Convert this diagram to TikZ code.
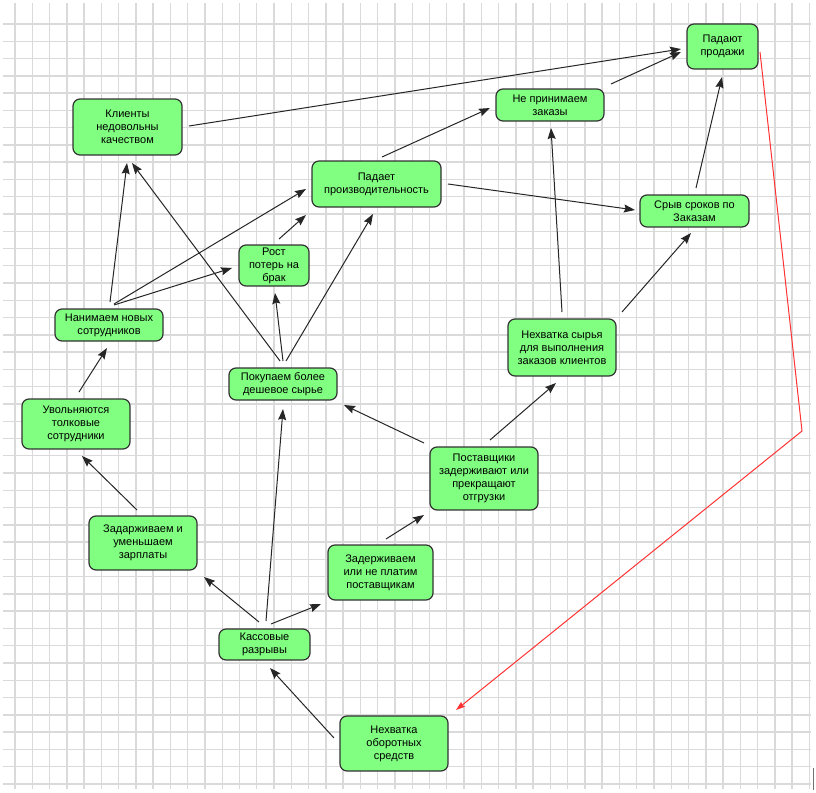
\documentclass[tikz,border=0pt]{standalone}
\usepackage{fontspec}
\setmainfont{Liberation Sans}
\usetikzlibrary{arrows.meta}
\definecolor{boxgreen}{HTML}{80FF80}
\definecolor{gridgray}{HTML}{DADADA}
\definecolor{linkred}{HTML}{FF3333}
\begin{document}
\begin{tikzpicture}[x=1pt,y=-1pt,
  box/.style={draw=black!80, line width=1.2pt, fill=boxgreen, rounded corners=7pt,
    align=center, inner sep=0pt, font=\fontsize{11}{13}\selectfont},
  arr/.style={draw=black!85, line width=1pt, -{Stealth[length=11pt,width=8pt,inset=1.5pt]}},
  redarr/.style={draw=linkred, line width=1pt, -{Stealth[length=9pt,width=6pt,inset=1pt]}}]
\useasboundingbox (0,0) rectangle (816,792);
\fill[white] (0,0) rectangle (816,792);
% grid
\foreach \k in {0,...,46} {\draw[gridgray, line width=1.4pt] ({15+17.27*\k},3) -- ({15+17.27*\k},789);}
\foreach \k in {0,...,44} {\draw[gridgray, line width=1.4pt] (3,{24+17.27*\k}) -- (811,{24+17.27*\k});}
\draw[black!55, line width=1pt] (813.5,768) -- (813.5,790);
% nodes
\node[box, minimum width=109pt, minimum height=56pt] (kli) at (127.5,127) {Клиенты\\недовольны\\качеством};
\node[box, minimum width=129pt, minimum height=46pt] (pad) at (376.5,184) {Падает\\производительность};
\node[box, minimum width=70pt, minimum height=41pt] (rost) at (274,265.5) {Рост\\потерь на\\брак};
\node[box, minimum width=108pt, minimum height=32pt] (nan) at (109,325) {Нанимаем новых\\сотрудников};
\node[box, minimum width=108pt, minimum height=32pt] (pok) at (283,384) {Покупаем более\\дешевое сырье};
\node[box, minimum width=108pt, minimum height=50pt] (uvo) at (76,424) {Увольняются\\толковые\\сотрудники};
\node[box, minimum width=108pt, minimum height=54pt] (zar) at (143,543) {Задарживаем и\\уменьшаем\\зарплаты};
\node[box, minimum width=91pt, minimum height=31pt] (kas) at (264.5,644.5) {Кассовые\\разрывы};
\node[box, minimum width=108pt, minimum height=55pt] (nob) at (394,743.5) {Нехватка\\оборотных\\средств};
\node[box, minimum width=105pt, minimum height=55pt] (zne) at (380.5,572.5) {Задерживаем\\или не платим\\поставщикам};
\node[box, minimum width=108pt, minimum height=63pt] (pos) at (484,478.5) {Поставщики\\задерживают или\\прекращают\\отгрузки};
\node[box, minimum width=108pt, minimum height=57pt] (nsy) at (562,347.5) {Нехватка сырья\\для выполнения\\заказов клиентов};
\node[box, minimum width=108pt, minimum height=32pt] (nep) at (550,105) {Не принимаем\\заказы};
\node[box, minimum width=71pt, minimum height=45pt] (pro) at (722.5,46.5) {Падают\\продажи};
\node[box, minimum width=109pt, minimum height=32pt] (sry) at (694.5,211) {Срыв сроков по\\Заказам};
% connectors
\draw[arr] ([shift={(61.5,-1)}]kli.center) -- ([shift={(-41.5,2.5)}]pro.center);
\draw[arr] ([shift={(5.5,-27)}]pad.center) -- ([shift={(-60,3)}]nep.center);
\draw[arr] ([shift={(61,-21)}]nep.center) -- ([shift={(-41.5,5.5)}]pro.center);
\draw[arr] ([shift={(1,-23)}]nan.center) -- ([shift={(-0.5,36)}]kli.center);
\draw[arr] ([shift={(-3,-23)}]pok.center) -- ([shift={(4.5,36)}]kli.center);
\draw[arr] ([shift={(5,-21)}]nan.center) -- ([shift={(-70.5,5)}]pad.center);
\draw[arr] ([shift={(5,-20)}]nan.center) -- ([shift={(-42,2.5)}]rost.center);
\draw[arr] ([shift={(5,-26.5)}]rost.center) -- ([shift={(-70.5,31)}]pad.center);
\draw[arr] ([shift={(0,-23)}]pok.center) -- ([shift={(1,27.5)}]rost.center);
\draw[arr] ([shift={(3,-23)}]pok.center) -- ([shift={(-3.5,30)}]pad.center);
\draw[arr] ([shift={(3,-32)}]uvo.center) -- ([shift={(-2,23)}]nan.center);
\draw[arr] ([shift={(71.5,0)}]pad.center) -- ([shift={(-59.5,-1)}]sry.center);
\draw[arr] ([shift={(0,-35.5)}]nsy.center) -- ([shift={(1,23)}]nep.center);
\draw[arr] ([shift={(60,-35.5)}]nsy.center) -- ([shift={(-3.5,22)}]sry.center);
\draw[arr] ([shift={(1.5,-23)}]sry.center) -- ([shift={(-0.5,30.5)}]pro.center);
\draw[arr] ([shift={(6,-38.5)}]pos.center) -- ([shift={(-6,35.5)}]nsy.center);
\draw[arr] ([shift={(-60,-35.5)}]pos.center) -- ([shift={(61,21)}]pok.center);
\draw[arr] ([shift={(5.5,-33.5)}]zne.center) -- ([shift={(-60,36.5)}]pos.center);
\draw[arr] ([shift={(-6,-33)}]zar.center) -- ([shift={(6,32)}]uvo.center);
\draw[arr] ([shift={(-5.5,-22.5)}]kas.center) -- ([shift={(61,34)}]zar.center);
\draw[arr] ([shift={(1.5,-23.5)}]kas.center) -- ([shift={(0,25)}]pok.center);
\draw[arr] ([shift={(6.5,-20.5)}]kas.center) -- ([shift={(-59.5,31.5)}]zne.center);
\draw[arr] ([shift={(-60,-5.5)}]nob.center) -- ([shift={(5.5,23.5)}]kas.center);
\coordinate (bend) at (802,431);
\draw[redarr] ([shift={(37.5,5.5)}]pro.center) -- (bend) -- ([shift={(62,-33.5)}]nob.center);
\end{tikzpicture}
\end{document}
